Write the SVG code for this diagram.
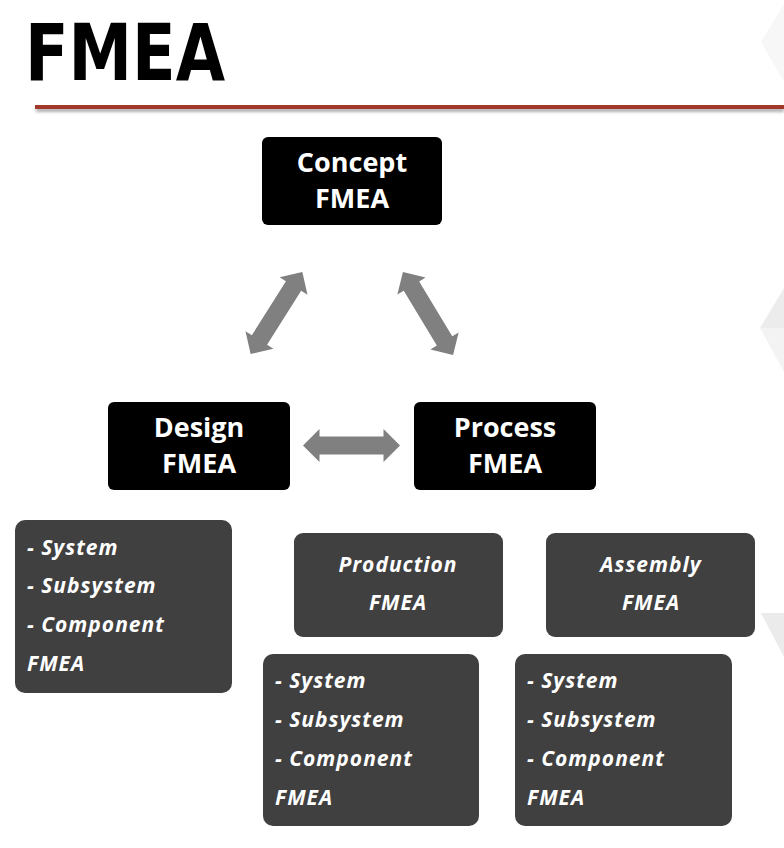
<svg xmlns="http://www.w3.org/2000/svg" width="784" height="848" viewBox="0 0 784 848">
  <defs>
    <style>
      .blk { fill: #000000; }
      .drk { fill: #404040; }
      .bt { font-family: "Open Sans", "Liberation Sans", sans-serif; font-weight: bold; font-size: 27px; fill: #ffffff; text-anchor: middle; }
      .it { font-family: "Open Sans", "Liberation Sans", sans-serif; font-weight: bold; font-style: italic; font-size: 21px; letter-spacing: 1px; fill: #ffffff; }
      .itc { text-anchor: middle; }
      .arr { fill: #808080; }
    </style>
    <polygon id="dbl" points="-48.5,0 -32,-16.5 -32,-9 32,-9 32,-16.5 48.5,0 32,16.5 32,9 -32,9 -32,16.5"/>
    <filter id="sh" x="-5%" y="-200%" width="110%" height="500%">
      <feGaussianBlur stdDeviation="1.5"/>
    </filter>
  </defs>
  <rect width="784" height="848" fill="#ffffff"/>

  <!-- decorative background shapes -->
  <polygon points="784,4 761,42 784,82" fill="#f7f7f7"/>
  <polygon points="784,288 760,328 784,328" fill="#ececec"/>
  <polygon points="784,328 760,328 784,372" fill="#f3f3f3"/>
  <polygon points="761,613 784,613 784,657" fill="#ebebeb"/>

  <!-- title -->
  <text x="25" y="80" font-family="DejaVu Sans Condensed, DejaVu Sans, sans-serif" font-weight="bold" font-size="78" textLength="200" lengthAdjust="spacingAndGlyphs" fill="#000000">FMEA</text>
  <rect x="36" y="108" width="748" height="4" fill="#b0b0b0" filter="url(#sh)"/>
  <rect x="35" y="105" width="749" height="4" fill="#a0392b"/>

  <g id="connectors">
    <use href="#dbl" class="arr" transform="translate(351.5,445.5)"/>
    <use href="#dbl" class="arr" transform="translate(276.5,313) rotate(-57.8)"/>
    <use href="#dbl" class="arr" transform="translate(428,313.5) rotate(58.9)"/>
  </g>

  <g id="concept">
    <rect class="blk" x="262" y="137" width="180" height="88" rx="6"/>
    <text class="bt" x="352" y="172">Concept</text>
    <text class="bt" x="352" y="208">FMEA</text>
  </g>
  <g id="design">
    <rect class="blk" x="108" y="402" width="182" height="88" rx="6"/>
    <text class="bt" x="199" y="437">Design</text>
    <text class="bt" x="199" y="473">FMEA</text>
  </g>
  <g id="process">
    <rect class="blk" x="414" y="402" width="182" height="88" rx="6"/>
    <text class="bt" x="505" y="437">Process</text>
    <text class="bt" x="505" y="473">FMEA</text>
  </g>

  <g id="design-levels">
    <rect class="drk" x="15" y="520" width="217" height="173" rx="10"/>
    <text class="it" x="27" y="555">- System</text>
    <text class="it" x="27" y="593">- Subsystem</text>
    <text class="it" x="27" y="632">- Component</text>
    <text class="it" x="27" y="671">FMEA</text>
  </g>
  <g id="production">
    <rect class="drk" x="294" y="533" width="209" height="104" rx="9"/>
    <text class="it itc" x="398" y="572">Production</text>
    <text class="it itc" x="398" y="610">FMEA</text>
  </g>
  <g id="assembly">
    <rect class="drk" x="546" y="533" width="209" height="104" rx="9"/>
    <text class="it itc" x="651" y="572">Assembly</text>
    <text class="it itc" x="651" y="610">FMEA</text>
  </g>
  <g id="production-levels">
    <rect class="drk" x="263" y="654" width="216" height="172" rx="10"/>
    <text class="it" x="275" y="688">- System</text>
    <text class="it" x="275" y="727">- Subsystem</text>
    <text class="it" x="275" y="766">- Component</text>
    <text class="it" x="275" y="805">FMEA</text>
  </g>
  <g id="assembly-levels">
    <rect class="drk" x="515" y="654" width="217" height="172" rx="10"/>
    <text class="it" x="527" y="688">- System</text>
    <text class="it" x="527" y="727">- Subsystem</text>
    <text class="it" x="527" y="766">- Component</text>
    <text class="it" x="527" y="805">FMEA</text>
  </g>
</svg>
